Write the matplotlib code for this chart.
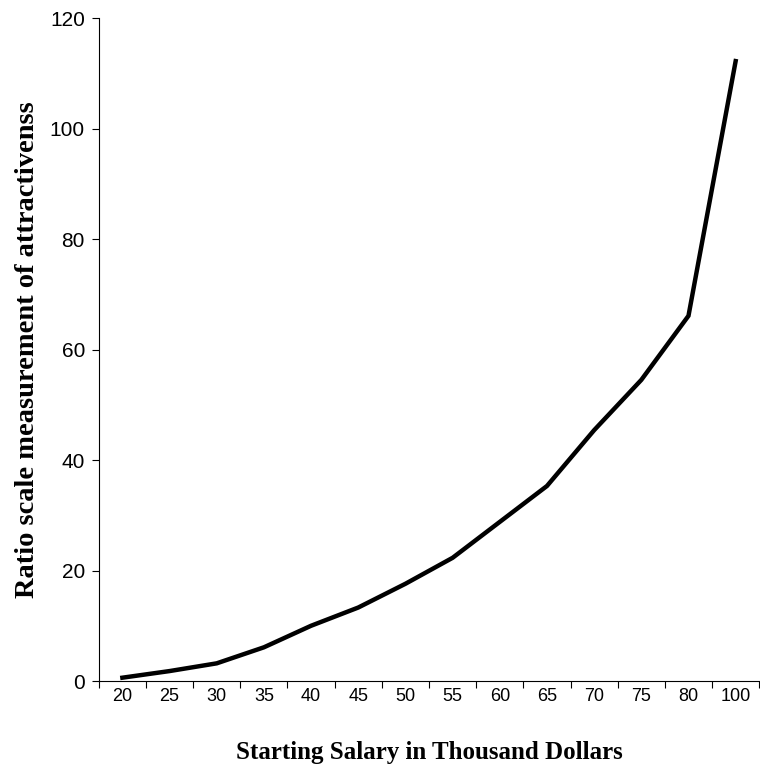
import numpy as np
import matplotlib
matplotlib.use('Agg')
import matplotlib.pyplot as plt
from matplotlib.ticker import FixedLocator

salary = ['20', '25', '30', '35', '40', '45', '50', '55', '60', '65', '70', '75', '80', '100']
attract = [0.6, 1.8, 3.2, 6.1, 10.0, 13.3, 17.6, 22.3, 28.8, 35.3, 45.4, 54.5, 66.1, 112.2]
yticks = [0, 20, 40, 60, 80, 100, 120]

fig = plt.figure(figsize=(7.6, 7.73), dpi=100)
ax = fig.add_axes([0.130, 0.119, 0.869, 0.8577])

x = np.arange(len(salary))
ax.plot(x, attract, color='black', lw=3.2, solid_joinstyle='miter')

ax.set_xlim(-0.5, len(salary) - 0.5)
ax.set_ylim(0, 120)

# Excel-style category axis: marks between categories, labels at centres
ax.xaxis.set_major_locator(FixedLocator(np.arange(len(salary) + 1) - 0.5))
ax.xaxis.set_major_formatter(plt.NullFormatter())
ax.xaxis.set_minor_locator(FixedLocator(x))
ax.set_xticklabels(salary, minor=True)
ax.tick_params(axis='x', which='major', direction='out', length=5, width=0.8)
ax.tick_params(axis='x', which='minor', length=0, pad=5, labelsize=13)

ax.set_yticks(yticks)
ax.tick_params(axis='y', direction='out', length=5, width=0.8, pad=5, labelsize=15)

for lab in ax.get_xticklabels(minor=True) + ax.get_yticklabels():
    lab.set_fontfamily('Liberation Sans')

for s in ['top', 'right']:
    ax.spines[s].set_visible(False)
for s in ['left', 'bottom']:
    ax.spines[s].set_linewidth(0.8)

ax.set_xlabel('Starting Salary in Thousand Dollars', fontfamily='Liberation Serif',
              fontweight='bold', fontsize=18, labelpad=26)
ax.set_ylabel('Ratio scale measurement of attractivenss', fontfamily='Liberation Serif',
              fontweight='bold', fontsize=20.5)
ax.yaxis.set_label_coords(-0.089, 0.5)

fig.savefig('out.png', dpi=100)
